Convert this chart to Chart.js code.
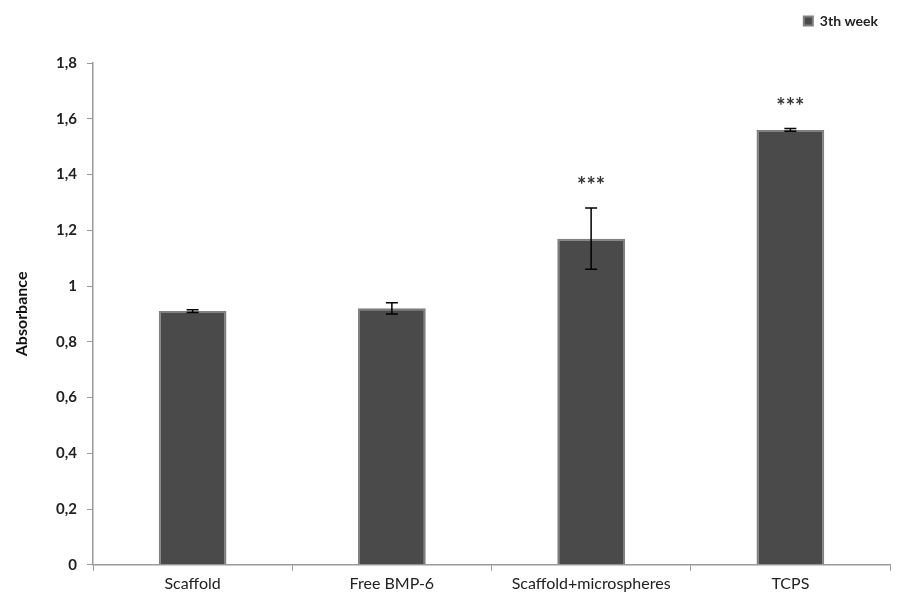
<!DOCTYPE html>
<html><head><meta charset="utf-8">
<script src="https://cdn.jsdelivr.net/npm/chart.js@4/dist/chart.umd.min.js"></script>
<style>html,body{margin:0;padding:0;background:#fff}</style>
</head><body>
<canvas id="c" width="905" height="610"></canvas>
<script>
const categories = ["Scaffold", "Free BMP-6", "Scaffold+microspheres", "TCPS"];
const absorbance = [0.91, 0.92, 1.17, 1.56];
const errors = [0.005, 0.02, 0.11, 0.005];
const significance = ["", "", "***", "***"];
const yTicks = [0, 0.2, 0.4, 0.6, 0.8, 1, 1.2, 1.4, 1.6, 1.8];
const seriesName = "3th week";

const FONT = "Lato, 'Open Sans', sans-serif";

const legendSpacer = {
  id: 'legendSpacer',
  afterInit(chart) {
    const lg = chart.legend;
    if (!lg) return;
    const orig = lg.fit.bind(lg);
    lg.fit = function () { orig(); this.height += 25; };
  }
};

const errorBarPlugin = {
  id: 'errbars',
  afterDatasetsDraw(chart) {
    const ctx = chart.ctx;
    const meta = chart.getDatasetMeta(0);
    const y = chart.scales.y;
    ctx.save();
    meta.data.forEach((bar, i) => {
      const x = bar.x;
      const v = absorbance[i], e = errors[i];
      const yt = y.getPixelForValue(v + e), yb = y.getPixelForValue(v - e);
      ctx.strokeStyle = '#000';
      ctx.lineWidth = 1.5;
      ctx.beginPath();
      ctx.moveTo(x, yt); ctx.lineTo(x, yb);
      ctx.moveTo(x - 6, yt); ctx.lineTo(x + 6, yt);
      ctx.moveTo(x - 6, yb); ctx.lineTo(x + 6, yb);
      ctx.stroke();
      if (significance[i]) {
        ctx.fillStyle = '#333';
        ctx.font = 'bold 22px ' + FONT;
        ctx.textAlign = 'center';
        ctx.textBaseline = 'middle';
        ctx.fillText(significance[i], x, yt - 22);
      }
    });
    ctx.restore();
  }
};

new Chart(document.getElementById('c'), {
  type: 'bar',
  data: {
    labels: categories,
    datasets: [{
      label: seriesName,
      data: absorbance,
      backgroundColor: '#4a4a4a',
      borderColor: '#808080',
      borderWidth: 2,
      categoryPercentage: 0.34,
      barPercentage: 1.0
    }]
  },
  options: {
    responsive: false,
    animation: false,
    layout: { padding: { top: 2, right: 15, left: 8, bottom: 14 } },
    plugins: {
      legend: {
        position: 'top', align: 'end',
        labels: { boxWidth: 9, boxHeight: 9, color: '#222', padding: 12,
          font: { family: FONT, size: 14, weight: 'bold' } }
      },
      tooltip: { enabled: false }
    },
    scales: {
      x: {
        grid: { display: true, drawOnChartArea: false, offset: true, tickLength: 6, color: '#9a9a9a' },
        border: { color: '#9a9a9a', width: 1.5 },
        ticks: { color: '#222', padding: 3, font: { family: FONT, size: 16 } }
      },
      y: {
        min: 0, max: 1.8,
        afterBuildTicks(s) { s.ticks = yTicks.map(v => ({ value: v })); },
        afterFit(s) { s.width = 85; },
        grid: { display: true, drawOnChartArea: false, tickLength: 6, color: '#9a9a9a' },
        border: { color: '#9a9a9a', width: 1.5 },
        title: { display: true, text: 'Absorbance', color: '#111', font: { family: FONT, size: 16, weight: 'bold' } },
        ticks: {
          color: '#222', padding: 10,
          font: { family: FONT, size: 15, weight: 'bold' },
          callback: v => String(v).replace('.', ',')
        }
      }
    }
  },
  plugins: [legendSpacer, errorBarPlugin]
});
</script>
</body></html>
